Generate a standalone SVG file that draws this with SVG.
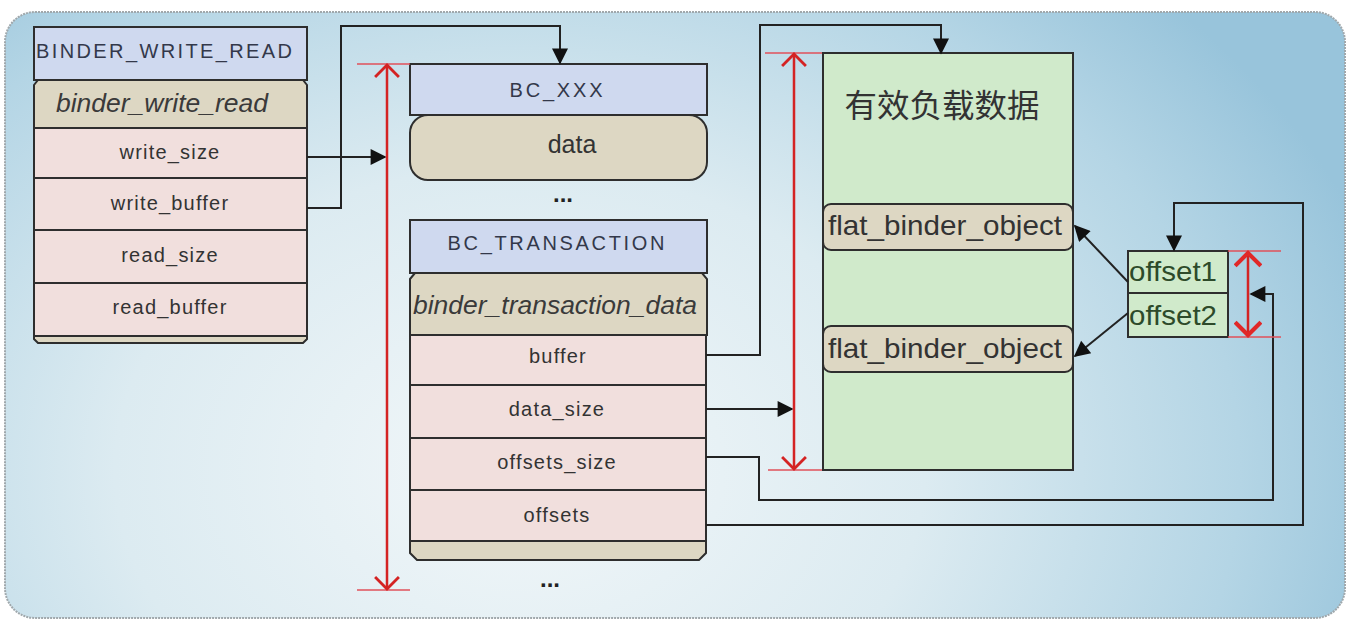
<svg xmlns="http://www.w3.org/2000/svg" width="1350" height="626" viewBox="0 0 1350 626">
<defs>
<radialGradient id="bg" gradientUnits="userSpaceOnUse" cx="520" cy="470" r="900" gradientTransform="translate(520 470) scale(1 0.75) translate(-520 -470)">
<stop offset="0" stop-color="#f2f7f9"/>
<stop offset="0.45" stop-color="#dcebf1"/>
<stop offset="0.8" stop-color="#b4d5e5"/>
<stop offset="1" stop-color="#98c4db"/>
</radialGradient>
<marker id="ah" viewBox="0 0 10 10" refX="9" refY="5" markerUnits="userSpaceOnUse" markerWidth="18" markerHeight="16" orient="auto"><path d="M0,0 L10,5 L0,10 Z" fill="#111"/></marker>
<marker id="rv" viewBox="0 0 12 24" refX="11" refY="12" markerUnits="userSpaceOnUse" markerWidth="21" markerHeight="26" orient="auto-start-reverse"><path d="M0,1 L11,12 L0,23" fill="none" stroke="#d42323" stroke-width="2.6"/></marker>
<marker id="rvs" viewBox="0 0 12 24" refX="11" refY="12" markerUnits="userSpaceOnUse" markerWidth="18" markerHeight="28" orient="auto-start-reverse"><path d="M0,1 L11,12 L0,23" fill="none" stroke="#e02828" stroke-width="3.5"/></marker>
<style>
.t{font-family:"Liberation Sans",Arial,sans-serif;fill:#333;}
.row{fill:#f1dfdd;stroke:#2e2e2e;stroke-width:2;}
.tan{fill:#ddd7c3;stroke:#2e2e2e;stroke-width:2;}
.hdr{fill:#cfd9ef;stroke:#2e2e2e;stroke-width:2;}
.grn{fill:#d0eacb;stroke:#2e2e2e;stroke-width:2;}
.lab{font-size:20px;letter-spacing:1.2px;text-anchor:middle;}
.hd{font-size:20px;text-anchor:middle;fill:#33384a;}
.it{font-style:italic;font-size:26px;text-anchor:middle;fill:#3a3a3a;}
.fbo{font-size:28px;fill:#333;}
.off{font-size:28px;fill:#2d4a2a;}
.dots{font-size:24px;font-weight:bold;text-anchor:middle;fill:#222;}
.con{fill:none;stroke:#222;stroke-width:2;}
.red{fill:none;stroke:#d42323;stroke-width:2.5;}
.tick{fill:none;stroke:#e0505a;stroke-width:1.5;}
</style>
</defs>
<rect x="5" y="12" width="1340" height="606" rx="30" fill="url(#bg)" stroke="#a0a8ac" stroke-width="2" stroke-dasharray="2 1"/>

<g id="binder_write_read_node">
<rect class="hdr" x="34" y="27" width="273" height="53"/>
<text class="t hd" x="164" y="58" textLength="256" lengthAdjust="spacing">BINDER_WRITE_READ</text>
<path class="tan" d="M34,85 L38,80 H303 L307,85 V128 H34 Z"/>
<text class="t it" x="162" y="112" textLength="212" lengthAdjust="spacingAndGlyphs">binder_write_read</text>
<rect class="row" x="34" y="128" width="273" height="50"/>
<text class="t lab" x="170" y="159">write_size</text>
<rect class="row" x="34" y="178" width="273" height="52"/>
<text class="t lab" x="170" y="210">write_buffer</text>
<rect class="row" x="34" y="230" width="273" height="53"/>
<text class="t lab" x="170" y="262">read_size</text>
<rect class="row" x="34" y="283" width="273" height="53"/>
<text class="t lab" x="170" y="314">read_buffer</text>
<path class="tan" d="M34,336 H307 V339 L303,343 H38 L34,339 Z"/>
</g>

<g id="bc_xxx_node">
<rect class="hdr" x="410" y="64" width="297" height="51"/>
<text class="t hd" x="556" y="97" textLength="93" lengthAdjust="spacing">BC_XXX</text>
<rect class="tan" x="410" y="115" width="297" height="65" rx="18"/>
<text class="t" x="572" y="153" font-size="25" text-anchor="middle">data</text>
</g>
<text class="t dots" x="563" y="202">...</text>

<g id="bc_transaction_node">
<rect class="hdr" x="410" y="220" width="297" height="53"/>
<text class="t hd" x="556" y="250" textLength="217" lengthAdjust="spacing">BC_TRANSACTION</text>
<path class="tan" d="M410,279 L415,273 H702 L707,279 V335 H410 Z"/>
<text class="t it" x="555" y="314" textLength="284" lengthAdjust="spacingAndGlyphs">binder_transaction_data</text>
<rect class="row" x="410" y="335" width="296" height="50"/>
<text class="t lab" x="558" y="363">buffer</text>
<rect class="row" x="410" y="385" width="296" height="53"/>
<text class="t lab" x="557" y="416">data_size</text>
<rect class="row" x="410" y="438" width="296" height="52"/>
<text class="t lab" x="557" y="469">offsets_size</text>
<rect class="row" x="410" y="490" width="296" height="51"/>
<text class="t lab" x="557" y="522">offsets</text>
<path class="tan" d="M410,541 H706 V553 L699,560 H417 L410,553 Z"/>
</g>
<text class="t dots" x="550" y="587">...</text>

<g id="payload_node">
<rect class="grn" x="823" y="53" width="250" height="417"/>
<text x="942" y="117" font-size="32" text-anchor="middle" fill="#333" font-family="'Noto Sans CJK SC','Noto Sans',sans-serif" textLength="195" lengthAdjust="spacingAndGlyphs">有效负载数据</text>
</g>
<g id="flat_binder_object_1">
<rect class="tan" x="823" y="204" width="250" height="46" rx="8"/>
<text class="t fbo" x="828" y="235" textLength="234" lengthAdjust="spacingAndGlyphs">flat_binder_object</text>
</g>
<g id="flat_binder_object_2">
<rect class="tan" x="823" y="326" width="250" height="46" rx="8"/>
<text class="t fbo" x="828" y="358" textLength="234" lengthAdjust="spacingAndGlyphs">flat_binder_object</text>
</g>

<g id="offsets_node">
<rect class="grn" x="1128" y="251" width="100" height="86" fill="#d6efcf"/>
<line x1="1128" y1="293" x2="1228" y2="293" stroke="#2e2e2e" stroke-width="2"/>
<text class="t off" x="1129" y="281" textLength="88" lengthAdjust="spacingAndGlyphs">offset1</text>
<text class="t off" x="1129" y="325" textLength="88" lengthAdjust="spacingAndGlyphs">offset2</text>
</g>

<g id="connectors">
<path class="con" d="M307,157 H385" stroke-width="3.5" marker-end="url(#ah)"/>
<path class="con" d="M307,208 H341 V26 H560 V63" marker-end="url(#ah)"/>
<path class="con" d="M706,355 H760 V25 H941 V53" marker-end="url(#ah)"/>
<path class="con" d="M706,409 H792" stroke-width="3" marker-end="url(#ah)"/>
<path class="con" d="M706,457 H759 V500 H1273 V294 H1251" marker-end="url(#ah)"/>
<path class="con" d="M706,525 H1303 V203 H1174 V250" marker-end="url(#ah)"/>
<path class="con" d="M1128,282 L1075,226" stroke-width="3" marker-end="url(#ah)"/>
<path class="con" d="M1128,313 L1075,356" stroke-width="3" marker-end="url(#ah)"/>
</g>

<g id="dimensions">
<line class="tick" x1="357" y1="64" x2="410" y2="64"/>
<line class="tick" x1="357" y1="590" x2="410" y2="590"/>
<line class="red" x1="387" y1="65" x2="387" y2="589" marker-start="url(#rv)" marker-end="url(#rv)"/>
<line class="tick" x1="765" y1="53" x2="822" y2="53"/>
<line class="tick" x1="768" y1="470" x2="822" y2="470"/>
<line class="red" x1="794" y1="54" x2="794" y2="469" marker-start="url(#rv)" marker-end="url(#rv)"/>
<line class="tick" x1="1228" y1="251" x2="1281" y2="251"/>
<line class="tick" x1="1228" y1="337" x2="1281" y2="337"/>
<line class="red" x1="1248" y1="253" x2="1248" y2="335" stroke-width="4" stroke="#e02828" marker-start="url(#rvs)" marker-end="url(#rvs)"/>
</g>
</svg>
